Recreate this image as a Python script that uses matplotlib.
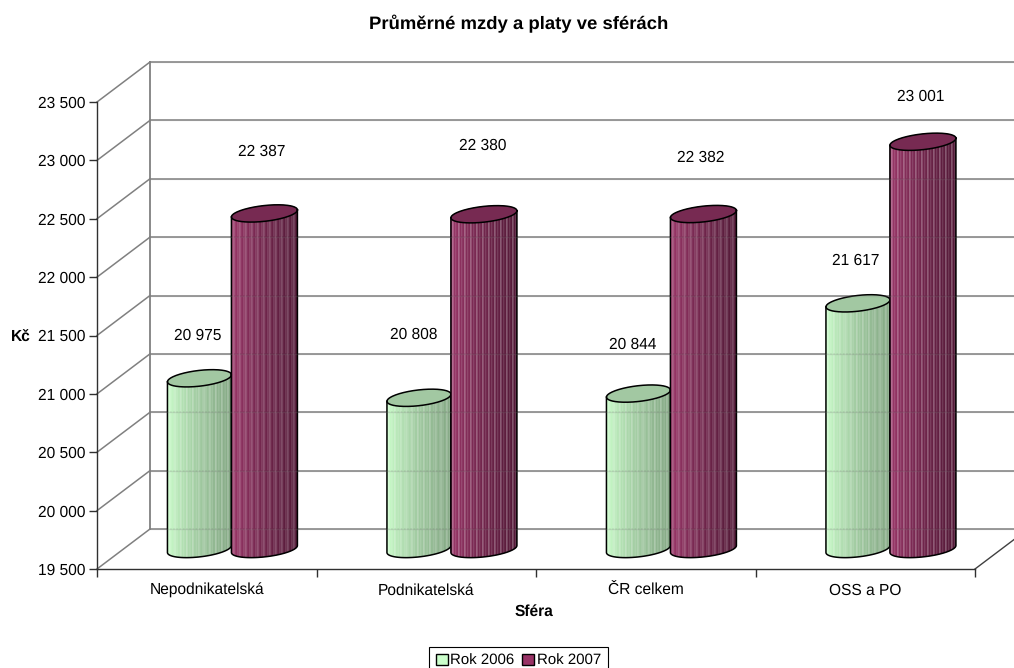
import numpy as np
import matplotlib
matplotlib.use("Agg")
import matplotlib.pyplot as plt
from matplotlib.patches import Patch

plt.rcParams['font.family'] = ['Liberation Sans', 'DejaVu Sans']
plt.rcParams['text.hinting'] = 'no_hinting'

categories = ["Nepodnikatelská", "Podnikatelská", "ČR celkem", "OSS a PO"]
rok_2006 = [20975, 20808, 20844, 21617]
rok_2007 = [22387, 22380, 22382, 23001]
series_names = ["Rok 2006", "Rok 2007"]
y_ticks = [19500, 20000, 20500, 21000, 21500, 22000, 22500, 23000, 23500]

W, H = 1014, 668
LEFT, RIGHT, TOP, BOTTOM = 97, 975, 102, 569

fig = plt.figure(figsize=(W / 100, H / 100), dpi=100)
ax = fig.add_axes([LEFT / W, 1 - BOTTOM / H, (RIGHT - LEFT) / W, (BOTTOM - TOP) / H])
ax.set_xlim(0, 4)
ax.set_ylim(19500, 23500)

# pixel sizes to data units
px_x = 4 / (RIGHT - LEFT)
px_y = 4000 / (BOTTOM - TOP)
depth_x = 53 * px_x
depth_y = 40 * px_y

GRID = '#808080'
LABEL_SIZE = 11.2

def fmt(v):
    return f"{v:,}".replace(",", " ")

# back wall, side wall and floor
for v in y_ticks:
    ax.plot([0, depth_x], [v, v + depth_y], color=GRID, lw=1.1, clip_on=False, zorder=1)
    ax.plot([depth_x, 4 + depth_x], [v + depth_y, v + depth_y], color=GRID, lw=1.1,
            clip_on=False, zorder=1)
ax.plot([depth_x, depth_x], [19500 + depth_y, 23500 + depth_y], color=GRID, lw=1.3,
        clip_on=False, zorder=1)
ax.plot([4, 4 + depth_x], [19500, 19500 + depth_y], color='#404040', lw=1,
        clip_on=False, zorder=1)

def mix(a, b, t):
    return tuple(np.array(a) * (1 - t) + np.array(b) * t)

def cylinder(x0, value, half_px, left_col, right_col, top_col, stripe, z):
    # the cylinder stands halfway into the depth of the chart
    half = half_px * px_x
    cx = x0 + depth_x / 2
    top = value + depth_y / 2 - 1.5 * px_y
    base = 19500 + depth_y / 2
    b = 7.9 * px_y
    tilt = 3.5 * px_y

    n = 44
    edges = np.linspace(-1, 1, n + 1)
    def lower(u, c):
        return c + tilt * u - b * np.sqrt(np.clip(1 - u ** 2, 0, 1))
    def upper(u, c):
        return c + tilt * u + b * np.sqrt(np.clip(1 - u ** 2, 0, 1))

    for i in range(n):
        us = np.linspace(edges[i], edges[i + 1], 5)
        xs = cx + half * us
        col = mix(left_col, right_col, (i / (n - 1)) ** 0.7)
        if i % 4 == 1:
            col = mix(col, (1, 1, 1), stripe)
        ax.fill(np.r_[xs, xs[::-1]],
                np.r_[lower(us, base), upper(us[::-1], top)],
                facecolor=col, edgecolor=col, lw=0.2, clip_on=False, zorder=z)

    u = np.cos(np.linspace(0, np.pi, 80))
    xs = cx + half * u
    # top face
    ax.fill(np.r_[xs, xs[::-1]], np.r_[upper(u, top), lower(u[::-1], top)],
            facecolor=top_col, edgecolor='none', clip_on=False, zorder=z + 0.1)
    ax.plot(np.r_[xs, xs[::-1], xs[0]],
            np.r_[upper(u, top), lower(u[::-1], top), upper(u, top)[0]],
            color='black', lw=1.1, clip_on=False, zorder=z + 0.2)
    # sides and bottom rim
    ax.plot(np.r_[xs[-1], xs[::-1], xs[0]],
            np.r_[top + tilt * -1, lower(u[::-1], base), top + tilt],
            color='black', lw=1.1, clip_on=False, zorder=z + 0.2)
    return cx, top

x_green = np.arange(4) + 0.346
x_red = np.arange(4) + 0.642

# label offsets from the top of each cylinder, in points
green_offsets = [(-1.3, 31), (-4, 45.5), (-4.4, 35.3), (-1.6, 31)]
red_offsets = [(-2.3, 44.5), (-1, 49.5), (-2.3, 40.2), (-1.6, 32.5)]

for i in range(4):
    cx, top = cylinder(x_green[i], rok_2006[i], 32, (0.80, 1.0, 0.80), (0.52, 0.66, 0.52),
                       '#A2C8A2', 0.18, 3 + i)
    ax.annotate(fmt(rok_2006[i]), (cx, top), xytext=green_offsets[i],
                textcoords='offset points', ha='center', va='center',
                fontsize=LABEL_SIZE, color='black', zorder=20)
    cx, top = cylinder(x_red[i], rok_2007[i], 33, (0.62, 0.22, 0.42), (0.33, 0.10, 0.22),
                       '#772A52', 0.2, 3.5 + i)
    ax.annotate(fmt(rok_2007[i]), (cx, top), xytext=red_offsets[i],
                textcoords='offset points', ha='center', va='center',
                fontsize=LABEL_SIZE, color='black', zorder=20)

# wall lines show faintly through the cylinders
for v in y_ticks:
    ax.plot([depth_x, 4 + depth_x], [v + depth_y, v + depth_y], color=GRID, lw=1,
            alpha=0.2, clip_on=False, zorder=12)

for side in ['top', 'right']:
    ax.spines[side].set_visible(False)
for side in ['left', 'bottom']:
    ax.spines[side].set_color('#303030')
    ax.spines[side].set_linewidth(1)
    ax.spines[side].set_zorder(15)

ax.set_yticks(y_ticks)
ax.set_yticklabels([fmt(v) for v in y_ticks], fontsize=LABEL_SIZE)
ax.set_xticks(range(5))
ax.set_xticklabels([])
ax.set_xticks(np.arange(4) + 0.5, minor=True)
ax.set_xticklabels(categories, minor=True, fontsize=LABEL_SIZE)
ax.tick_params(axis='x', which='minor', length=0, pad=10)
ax.tick_params(axis='both', which='major', length=6, width=1, color='#303030', pad=2)

fig.text(519 / W, 1 - 23.5 / H, "Průměrné mzdy a platy ve sférách", fontsize=13.3,
         fontweight='bold', ha='center', va='center')
fig.text(21 / W, 1 - 338 / H, "Kč", fontsize=LABEL_SIZE, fontweight='bold', ha='center', va='center')
fig.text(534 / W, 1 - 612 / H, "Sféra", fontsize=LABEL_SIZE, fontweight='bold', ha='center', va='center')

handles = [Patch(facecolor='#CCFFCC', edgecolor='black', label=series_names[0]),
           Patch(facecolor='#993366', edgecolor='black', label=series_names[1])]
leg = fig.legend(handles=handles, ncol=2, loc='upper left',
                 bbox_to_anchor=(429 / W, 1 - 647 / H), frameon=True, fancybox=False,
                 edgecolor='black', framealpha=1, fontsize=10.8, borderaxespad=0,
                 handlelength=0.8, handleheight=0.8, handletextpad=0.15,
                 columnspacing=0.55, borderpad=0.45)
leg.get_frame().set_linewidth(0.8)

fig.savefig("out.png", dpi=100)
